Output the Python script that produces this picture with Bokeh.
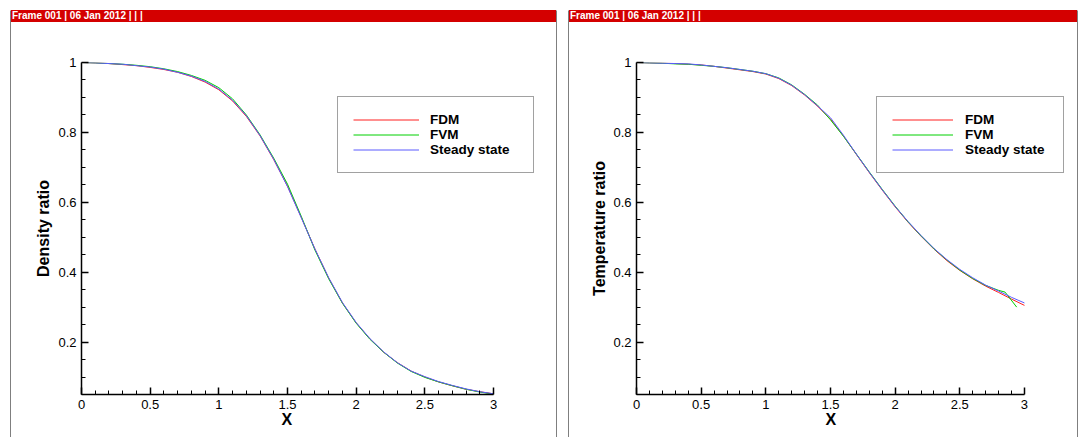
from bokeh.plotting import figure
from bokeh.layouts import row, column
from bokeh.models import FixedTicker, Legend, LegendItem, Range1d, Spacer, Div, Title
from bokeh.embed import file_html
from bokeh.resources import INLINE

FONT = "Liberation Sans"

# ---------------- data ----------------
x = [0.0, 0.1, 0.2, 0.3, 0.4, 0.5, 0.6, 0.7, 0.8, 0.9, 1.0, 1.1, 1.2, 1.3, 1.4, 1.5,
     1.6, 1.7, 1.8, 1.9, 2.0, 2.1, 2.2, 2.3, 2.4, 2.5, 2.6, 2.7, 2.8, 2.9, 3.0]

density_fdm = [1.000, 0.999, 0.997, 0.994, 0.991, 0.986, 0.980, 0.972, 0.960, 0.944, 0.922,
               0.890, 0.846, 0.790, 0.722, 0.646, 0.557, 0.466, 0.383, 0.312, 0.255, 0.209,
               0.171, 0.141, 0.117, 0.100, 0.086, 0.075, 0.065, 0.058, 0.052]
density_fvm = [1.000, 0.999, 0.997, 0.995, 0.992, 0.988, 0.982, 0.974, 0.963, 0.949, 0.928,
               0.896, 0.850, 0.793, 0.726, 0.652, 0.560, 0.463, 0.381, 0.311, 0.254, 0.208,
               0.171, 0.140, 0.116, 0.099, 0.086, 0.075, 0.065, 0.057, 0.051]
density_steady = [1.000, 0.999, 0.997, 0.995, 0.991, 0.987, 0.981, 0.972, 0.961, 0.946, 0.924,
                  0.892, 0.848, 0.791, 0.723, 0.645, 0.556, 0.466, 0.384, 0.313, 0.256, 0.210,
                  0.172, 0.141, 0.117, 0.101, 0.087, 0.076, 0.066, 0.058, 0.052]

temp_fdm = [1.000, 0.999, 0.998, 0.997, 0.995, 0.993, 0.989, 0.984, 0.979, 0.974, 0.967,
            0.954, 0.934, 0.907, 0.875, 0.838, 0.790, 0.737, 0.685, 0.635, 0.587, 0.543,
            0.503, 0.466, 0.433, 0.405, 0.381, 0.360, 0.342, 0.323, 0.305]
x_temp_fvm = [0.0, 0.1, 0.2, 0.3, 0.4, 0.5, 0.6, 0.7, 0.8, 0.9, 1.0, 1.1, 1.2, 1.3, 1.4, 1.5,
              1.6, 1.7, 1.8, 1.9, 2.0, 2.1, 2.2, 2.3, 2.4, 2.5, 2.6, 2.7, 2.8, 2.85, 2.94]
temp_fvm = [1.000, 0.999, 0.998, 0.996, 0.995, 0.992, 0.989, 0.985, 0.980, 0.975, 0.968,
            0.956, 0.936, 0.909, 0.878, 0.836, 0.789, 0.738, 0.687, 0.637, 0.589, 0.544,
            0.504, 0.467, 0.435, 0.406, 0.382, 0.362, 0.348, 0.343, 0.300]
temp_steady = [1.000, 0.999, 0.998, 0.997, 0.996, 0.993, 0.989, 0.985, 0.980, 0.975, 0.968,
               0.955, 0.935, 0.908, 0.876, 0.842, 0.792, 0.738, 0.686, 0.636, 0.588, 0.545,
               0.505, 0.468, 0.436, 0.408, 0.384, 0.363, 0.346, 0.328, 0.312]

x_ticks = [0, 0.5, 1, 1.5, 2, 2.5, 3]
x_tick_labels = ["0", "0.5", "1", "1.5", "2", "2.5", "3"]
x_minor = [0.1, 0.2, 0.3, 0.4, 0.6, 0.7, 0.8, 0.9, 1.1, 1.2, 1.3, 1.4, 1.6, 1.7, 1.8, 1.9,
           2.1, 2.2, 2.3, 2.4, 2.6, 2.7, 2.8, 2.9]
y_ticks = [0.2, 0.4, 0.6, 0.8, 1]
y_tick_labels = ["0.2", "0.4", "0.6", "0.8", "1"]
y_minor = [0.05, 0.1, 0.15, 0.25, 0.3, 0.35, 0.45, 0.5, 0.55, 0.65, 0.7, 0.75, 0.85, 0.9, 0.95]

series_names = ["FDM", "FVM", "Steady state"]
series_colors = ["#ff2020", "#00d000", "#5a5aff"]

header_text = "Frame 001 | 06 Jan 2012 | | |"
x_label = "X"

TOP_GAP = 10
HDR_H = 12
PANEL_H = 437 - TOP_GAP
MAIN_H = PANEL_H - HDR_H
RED = "#d40000"


def vline():
    return figure(width=1, height=PANEL_H, min_border=0, x_axis_type=None, y_axis_type=None,
                  x_range=Range1d(0, 1), y_range=Range1d(0, 1),
                  background_fill_color="black", border_fill_color="black",
                  outline_line_color=None, toolbar_location=None, output_backend="svg")


def header(width):
    return Div(text=header_text, width=width, height=HDR_H,
               styles={"background-color": RED, "color": "white", "font-family": FONT,
                       "font-size": "10px", "font-weight": "bold", "line-height": "12px",
                       "padding-left": "1px", "white-space": "nowrap", "overflow": "hidden",
                       "box-sizing": "border-box", "margin": "0"})


def make_panel(width, mbl, mbr, x_end, ylabel, ylabel_standoff, xs_list, ys_list,
               leg_loc, glyph_w, label_w, label_standoff, xlabel_offset):
    p = figure(width=width, height=MAIN_H, output_backend="svg", toolbar_location=None,
               x_range=Range1d(0, x_end), y_range=Range1d(0.05, 1.0),
               min_border_left=mbl, min_border_right=mbr, min_border_top=40,
               min_border_bottom=43, outline_line_color=None,
               background_fill_color="white", border_fill_color="white")
    p.grid.visible = False

    p.xaxis.ticker = FixedTicker(ticks=x_ticks, minor_ticks=x_minor)
    p.xaxis.major_label_overrides = dict(zip(x_ticks, x_tick_labels))
    p.xaxis.bounds = (x_ticks[0], x_ticks[-1])
    p.yaxis.ticker = FixedTicker(ticks=y_ticks, minor_ticks=y_minor)
    p.yaxis.major_label_overrides = dict(zip(y_ticks, y_tick_labels))

    for ax in (p.xaxis, p.yaxis):
        ax.axis_line_color = "black"
        ax.axis_line_width = 1.5
        ax.major_tick_in = 7
        ax.major_tick_out = 0
        ax.minor_tick_in = 4
        ax.minor_tick_out = 0
        ax.major_tick_line_width = 1.5
        ax.minor_tick_line_width = 1
        ax.major_tick_line_color = "black"
        ax.minor_tick_line_color = "black"
        ax.major_label_text_font = FONT
        ax.major_label_text_font_size = "13px"
        ax.major_label_text_color = "black"
        ax.major_label_standoff = 5
        ax.axis_label_text_font = FONT
        ax.axis_label_text_font_size = "16px"
        ax.axis_label_text_font_style = "bold"
        ax.axis_label_text_color = "black"
    p.yaxis.axis_label = ylabel
    p.yaxis.axis_label_standoff = ylabel_standoff

    # x-axis label placed under the middle of the bounded axis
    p.add_layout(Title(text=x_label, align="left", offset=xlabel_offset, standoff=-2,
                       vertical_align="top", text_font=FONT, text_font_size="16px",
                       text_font_style="bold", text_color="black"), "below")

    renderers = []
    for xs, ys, c in zip(xs_list, ys_list, series_colors):
        renderers.append(p.line(xs, ys, line_color=c, line_width=1))

    legend = Legend(items=[LegendItem(label=n, renderers=[r]) for n, r in zip(series_names, renderers)],
                    location=leg_loc, glyph_width=glyph_w, glyph_height=15, label_height=15,
                    label_width=label_w, spacing=0, padding=15, label_standoff=label_standoff,
                    margin=0, label_text_font=FONT, label_text_font_style="bold",
                    label_text_font_size="13.5px", label_text_color="black",
                    border_line_color="#444444", border_line_width=1,
                    background_fill_color="white", background_fill_alpha=1)
    p.add_layout(legend)
    return p


W1 = 545
W2 = 508
p1 = make_panel(W1, 70, 16, 3.342, "Density ratio", 3,
                [x, x, x], [density_fdm, density_fvm, density_steady],
                (256, 221), 66, 88, 11, 200)
p2 = make_panel(W2, 67, 7, 3.356, "Temperature ratio", 2,
                [x, x_temp_fvm, x], [temp_fdm, temp_fvm, temp_steady],
                (240, 221), 61, 83, 12, 189)

left_panel = column(Spacer(width=W1 + 2, height=TOP_GAP),
                    row(vline(), column(header(W1), p1), vline()))
right_panel = column(Spacer(width=W2 + 2, height=TOP_GAP),
                     row(vline(), column(header(W2), p2), vline()))

layout = row(Spacer(width=10, height=437), left_panel,
             Spacer(width=11, height=437), right_panel)
open("out.html", "w").write(file_html(layout, INLINE))
